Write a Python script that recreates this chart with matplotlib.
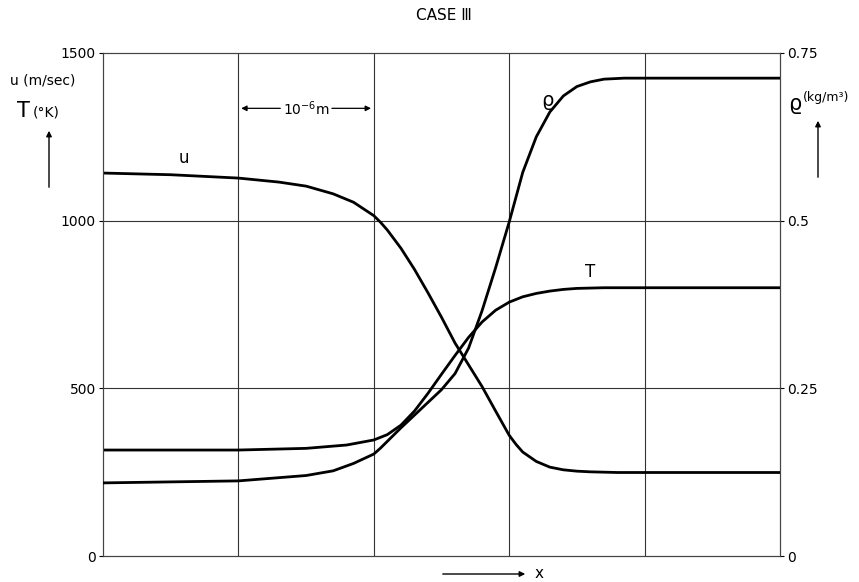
import matplotlib.pyplot as plt
from matplotlib.patches import FancyArrowPatch

# positions in units of the 10^-6 m grid spacing
u_x = [0.0, 0.5, 1.0, 1.3, 1.5, 1.7, 1.85, 2.0, 2.05, 2.1, 2.2, 2.3, 2.4, 2.5,
       2.6, 2.7, 2.8, 2.9, 3.0, 3.05, 3.1, 3.2, 3.3, 3.4, 3.5, 3.6, 3.8, 4.0, 5.0]
u_val = [1142, 1137, 1127, 1115, 1103, 1080, 1055, 1015, 995, 972, 918, 855, 785, 712,
         635, 570, 505, 432, 360, 333, 310, 282, 265, 257, 253, 251, 249, 249, 249]

T_x = [0.0, 1.0, 1.5, 1.8, 2.0, 2.1, 2.2, 2.3, 2.4, 2.5, 2.6, 2.7, 2.8,
       2.9, 3.0, 3.1, 3.2, 3.3, 3.4, 3.5, 3.7, 4.0, 5.0]
T_val = [316, 316, 321, 331, 346, 362, 390, 432, 485, 542, 598, 652, 698,
         733, 757, 773, 783, 790, 795, 798, 800, 800, 800]

rho_x = [0.0, 1.0, 1.5, 1.7, 1.85, 2.0, 2.05, 2.1, 2.2, 2.3, 2.4, 2.5, 2.6, 2.7,
         2.8, 2.9, 3.0, 3.1, 3.2, 3.3, 3.4, 3.5, 3.6, 3.7, 3.85, 4.0, 5.0]
rho_val = [0.109, 0.112, 0.120, 0.127, 0.138, 0.152, 0.161, 0.171, 0.191, 0.210,
           0.229, 0.248, 0.272, 0.310, 0.366, 0.430, 0.498, 0.572, 0.625, 0.662,
           0.686, 0.700, 0.707, 0.711, 0.7125, 0.7125, 0.7125]

left_ticks = [0, 500, 1000, 1500]
right_ticks = [0, 0.25, 0.5, 0.75]
right_labels = ["0", "0.25", "0.5", "0.75"]

W, H = 859, 582
fig = plt.figure(figsize=(W / 100, H / 100), dpi=100)
ax = fig.add_axes([103 / W, 1 - 556 / H, 677 / W, 503 / H])
ax2 = ax.twinx()

grid_kw = dict(color="#333333", linewidth=0.8, zorder=1)
for gx in [1, 2, 3, 4]:
    ax.axvline(gx, **grid_kw)
for gy in [500, 1000]:
    ax.axhline(gy, **grid_kw)

line_kw = dict(color="black", linewidth=2.0, zorder=3, solid_joinstyle="round")
ax.plot(u_x, u_val, **line_kw)
ax.plot(T_x, T_val, **line_kw)
ax2.plot(rho_x, rho_val, **line_kw)

ax.set_xlim(0, 5)
ax.set_ylim(0, 1500)
ax2.set_ylim(0, 0.75)
ax.set_xticks([])
ax.set_yticks(left_ticks)
ax2.set_yticks(right_ticks)
ax2.set_yticklabels(right_labels)
ax.tick_params(axis="y", length=3, width=0.8, labelsize=10, pad=2)
ax2.tick_params(axis="y", length=3, width=0.8, labelsize=10, pad=2)
for a in (ax, ax2):
    for s in a.spines.values():
        s.set_linewidth(0.8)
        s.set_color("#444444")

# curve labels
ax.text(0.6, 1160, "u", fontsize=12, ha="center", va="bottom")
ax.text(3.6, 820, "T", fontsize=12, ha="center", va="bottom")
ax.text(3.28, 1330, "ϱ", fontsize=14, ha="center", va="bottom")

# scale bar between grid lines
bar_kw = dict(arrowstyle="-|>", color="black", lw=0.9, mutation_scale=8)
ax.annotate("", xy=(1, 1335), xytext=(1.33, 1335), arrowprops=bar_kw)
ax.annotate("", xy=(2, 1335), xytext=(1.67, 1335), arrowprops=bar_kw)
ax.text(1.5, 1335, r"10$^{-6}$m", fontsize=10, ha="center", va="center")

# axis titles and arrows
fig.text(444 / W, 1 - 15 / H, "CASE Ⅲ", fontsize=11, ha="center", va="center")
fig.text(10 / W, 1 - 80 / H, "u (m/sec)", fontsize=10, ha="left", va="center")
fig.text(17 / W, 1 - 111 / H, "T", fontsize=15, ha="left", va="center")
fig.text(33 / W, 1 - 112 / H, "(°K)", fontsize=10, ha="left", va="center")
fig.text(788 / W, 1 - 104 / H, "ϱ", fontsize=15, ha="left", va="center")
fig.text(803 / W, 1 - 97 / H, "(kg/m³)", fontsize=9, ha="left", va="center")
fig.text(535 / W, 1 - 574 / H, "x", fontsize=11, ha="left", va="center")

arrow_kw = dict(arrowstyle="-|>", color="black", lw=1.0, mutation_scale=8,
                transform=fig.transFigure)
fig.patches.append(FancyArrowPatch((49 / W, 1 - 190 / H), (49 / W, 1 - 128 / H), **arrow_kw))
fig.patches.append(FancyArrowPatch((818 / W, 1 - 180 / H), (818 / W, 1 - 118 / H), **arrow_kw))
fig.patches.append(FancyArrowPatch((440 / W, 1 - 574 / H), (528 / W, 1 - 574 / H), **arrow_kw))

fig.savefig("out.png", dpi=100)
